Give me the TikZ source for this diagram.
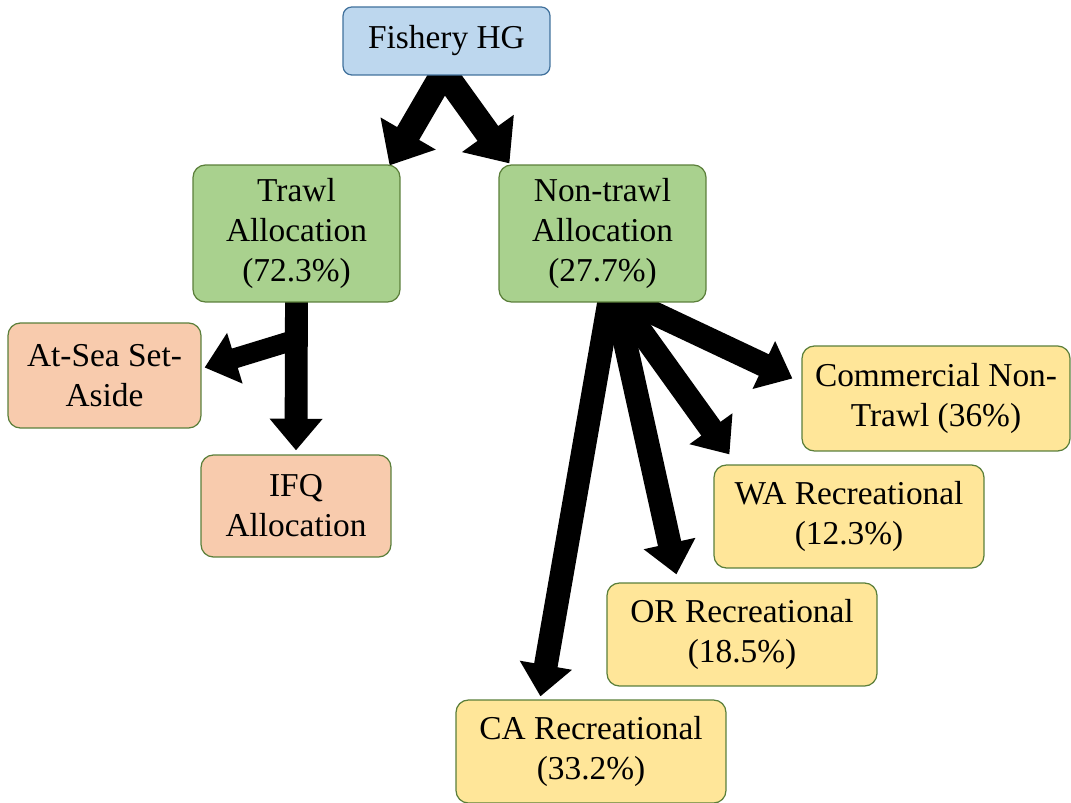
\documentclass[tikz,border=0pt]{standalone}
\usepackage{fontspec}
\setmainfont{Liberation Serif}
\usetikzlibrary{arrows.meta,positioning,calc,backgrounds}
\definecolor{hgblue}{HTML}{BDD7EE}
\definecolor{hgborder}{HTML}{41719C}
\definecolor{allocgreen}{HTML}{A9D18E}
\definecolor{greenborder}{HTML}{5B7F3A}
\definecolor{trawlpeach}{HTML}{F8CBAD}
\definecolor{sectoryellow}{HTML}{FFE699}

\begin{document}
\begin{tikzpicture}[x=0.02cm, y=-0.02cm,
    box/.style={draw=greenborder, rounded corners=7pt, line width=0.7pt, align=center, inner sep=0pt, font=\fontsize{19}{22.7}\selectfont},
    bigarrow/.style={line width=14.5pt, -{Triangle[length=21pt, width=35pt]}},
    arrow/.style={line width=13.5pt, -{Triangle[length=18pt, width=29pt]}}
]
\useasboundingbox (0,0) rectangle (1071,803);

% Top level
\node[box, draw=hgborder, fill=hgblue, rounded corners=5pt, minimum width=4.14cm, minimum height=1.36cm] (fish) at (446.5, 41) {Fishery HG};

% Allocations
\node[box, fill=allocgreen, minimum width=4.14cm, minimum height=2.74cm] (trawl) at (296.5, 233.5) {Trawl\\Allocation\\(72.3\%)};
\node[box, fill=allocgreen, minimum width=4.14cm, minimum height=2.74cm] (nontrawl) at (602.5, 233.5) {Non-trawl\\Allocation\\(27.7\%)};

% Trawl side
\node[box, fill=trawlpeach, minimum width=3.86cm, minimum height=2.1cm] (atsea) at (104.5, 375.5) {At-Sea Set-\\Aside};
\node[box, fill=trawlpeach, minimum width=3.8cm, minimum height=2.04cm] (ifq) at (296, 506) {IFQ\\Allocation};

% Non-trawl side
\node[box, fill=sectoryellow, minimum width=5.36cm, minimum height=2.1cm] (comm) at (936, 398.5) {Commercial Non-\\Trawl (36\%)};
\node[box, fill=sectoryellow, minimum width=5.4cm, minimum height=2.06cm] (wa) at (849, 516.5) {WA Recreational\\(12.3\%)};
\node[box, fill=sectoryellow, minimum width=5.4cm, minimum height=2.06cm] (or) at (742, 634.5) {OR Recreational\\(18.5\%)};
\node[box, fill=sectoryellow, minimum width=5.4cm, minimum height=2.06cm] (ca) at (591, 751.5) {CA Recreational\\(33.2\%)};

% Arrows
\begin{pgfonlayer}{background}
\draw[bigarrow] ($(fish.south)+(0,-8)$) -- ($(trawl.north east)+(-11,1)$);
\draw[bigarrow] ($(fish.south)+(-6,-8)$) -- ($(nontrawl.north west)+(11,-1)$);
\draw[arrow, line width=13pt] ($(trawl.south)+(0,-12)$) -- ($(ifq.north)+(0,-4)$);
\draw[arrow, line width=11.5pt] ($(trawl.south)+(-4,38)$) -- ($(atsea.east)+(3,-8)$);
\draw[arrow] ($(nontrawl.south)+(12,-8)$) -- ($(comm.west)+(-9,-20)$);
\draw[arrow] ($(nontrawl.south)+(12,-8)$) -- ($(wa.north west)+(16,-10)$);
\draw[arrow] ($(nontrawl.south)+(12,-8)$) -- ($(or.north west)+(70,-8)$);
\draw[arrow] ($(nontrawl.south)+(8,-8)$) -- ($(ca.north west)+(85,-3)$);
\end{pgfonlayer}

\end{tikzpicture}
\end{document}
